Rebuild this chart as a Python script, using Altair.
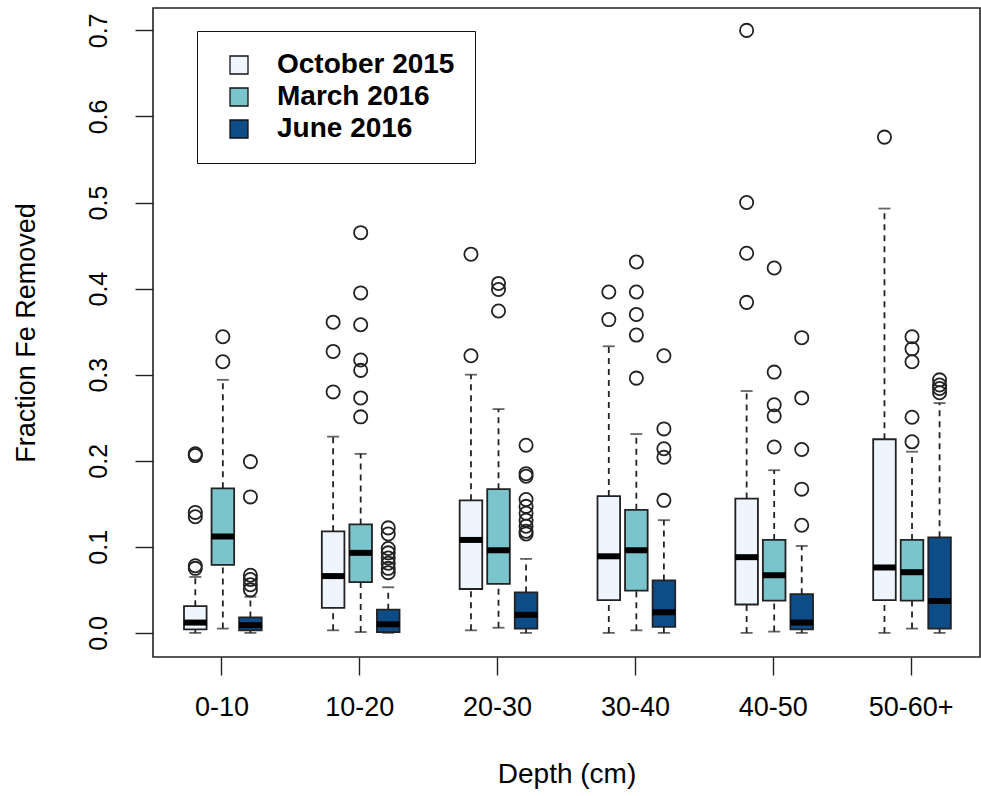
import altair as alt
import pandas as pd

depths = ["0-10", "10-20", "20-30", "30-40", "40-50", "50-60+"]
series_names = ["October 2015", "March 2016", "June 2016"]
colors = ["#EEF5FD", "#7AC5CC", "#0E4C88"]

# box statistics per series, one value per depth class
oct_lo = [0.000, 0.003, 0.003, 0.000, 0.000, 0.000]
oct_q1 = [0.004, 0.029, 0.051, 0.038, 0.033, 0.038]
oct_med = [0.012, 0.066, 0.108, 0.089, 0.088, 0.076]
oct_q3 = [0.031, 0.118, 0.154, 0.159, 0.156, 0.225]
oct_hi = [0.065, 0.228, 0.300, 0.333, 0.281, 0.493]

mar_lo = [0.005, 0.001, 0.006, 0.003, 0.0015, 0.005]
mar_q1 = [0.079, 0.059, 0.057, 0.049, 0.0375, 0.0375]
mar_med = [0.112, 0.093, 0.096, 0.096, 0.067, 0.0705]
mar_q3 = [0.168, 0.126, 0.167, 0.143, 0.108, 0.108]
mar_hi = [0.294, 0.208, 0.260, 0.231, 0.189, 0.2105]

jun_lo = [0.000, 0.000, 0.000, 0.000, 0.000, 0.000]
jun_q1 = [0.003, 0.001, 0.005, 0.007, 0.004, 0.005]
jun_med = [0.009, 0.010, 0.021, 0.024, 0.012, 0.037]
jun_q3 = [0.018, 0.027, 0.047, 0.061, 0.045, 0.111]
jun_hi = [0.042, 0.053, 0.086, 0.131, 0.101, 0.267]

# outliers per series, one list per depth class
oct_out = [
    [0.075, 0.078, 0.135, 0.140, 0.206, 0.208],
    [0.280, 0.327, 0.361],
    [0.322, 0.440],
    [0.364, 0.396],
    [0.384, 0.441, 0.500, 0.700],
    [0.576],
]
mar_out = [
    [0.315, 0.344],
    [0.251, 0.273, 0.305, 0.317, 0.358, 0.395, 0.465],
    [0.374, 0.399, 0.406],
    [0.296, 0.346, 0.370, 0.396, 0.431],
    [0.216, 0.252, 0.265, 0.303, 0.424],
    [0.222, 0.2505, 0.315, 0.330, 0.344],
]
jun_out = [
    [0.050, 0.056, 0.062, 0.067, 0.158, 0.199],
    [0.070, 0.075, 0.081, 0.087, 0.093, 0.098, 0.115, 0.122],
    [0.115, 0.118, 0.124, 0.131, 0.139, 0.147, 0.155, 0.182, 0.185, 0.218],
    [0.154, 0.204, 0.214, 0.237, 0.322],
    [0.125, 0.167, 0.213, 0.273, 0.343],
    [0.279, 0.284, 0.288, 0.294],
]

stats = {
    "October 2015": (oct_lo, oct_q1, oct_med, oct_q3, oct_hi, oct_out),
    "March 2016": (mar_lo, mar_q1, mar_med, mar_q3, mar_hi, mar_out),
    "June 2016": (jun_lo, jun_q1, jun_med, jun_q3, jun_hi, jun_out),
}

box_rows = []
out_rows = []
for s in series_names:
    lo, q1, med, q3, hi, outs = stats[s]
    for i, d in enumerate(depths):
        box_rows.append(dict(depth=d, series=s, lo=lo[i], q1=q1[i], med=med[i], q3=q3[i], hi=hi[i]))
        for v in outs[i]:
            out_rows.append(dict(depth=d, series=s, value=v))
box_df = pd.DataFrame(box_rows)
out_df = pd.DataFrame(out_rows)

FONT = "Liberation Sans"
INK = "#222222"

xscale = alt.Scale(domain=depths, paddingInner=0, paddingOuter=0)
offscale = alt.Scale(domain=series_names, range=[31, 108.7], paddingInner=0.18, paddingOuter=0)
yscale = alt.Scale(domain=[-0.028, 0.726], nice=False, zero=False)

xaxis = alt.Axis(
    labelAngle=0, domain=False, grid=False, tickSize=18, tickWidth=1.4,
    tickColor=INK, labelFontSize=27, labelColor="black", labelPadding=19,
    titleFontSize=28, titleFontWeight="normal", titleColor="black", titlePadding=40,
    labelFont=FONT, titleFont=FONT,
)
yaxis = alt.Axis(
    values=[0.0, 0.1, 0.2, 0.3, 0.4, 0.5, 0.6, 0.7], format=".1f",
    labelAngle=270, labelAlign="center", labelBaseline="bottom",
    domain=False, grid=False, tickSize=18, tickWidth=1.4, tickColor=INK,
    labelFontSize=25, labelColor="black", labelPadding=24,
    titleFontSize=27, titleFontWeight="normal", titleColor="black", titlePadding=46,
    labelFont=FONT, titleFont=FONT,
)


def xenc():
    return alt.X("depth:N", scale=xscale, axis=xaxis, sort=depths, title="Depth (cm)")


def xoff():
    return alt.XOffset("series:N", scale=offscale, sort=series_names)


def yenc(field):
    return alt.Y(field, type="quantitative", scale=yscale, axis=yaxis, title="Fraction Fe Removed")


base = alt.Chart(box_df)

whisk_lo = base.mark_rule(color=INK, strokeWidth=1.8, strokeDash=[6, 5]).encode(
    x=xenc(), xOffset=xoff(), y=yenc("lo"), y2="q1:Q")
whisk_hi = base.mark_rule(color=INK, strokeWidth=1.8, strokeDash=[6, 5]).encode(
    x=xenc(), xOffset=xoff(), y=yenc("q3"), y2="hi:Q")
cap_lo = base.mark_tick(color=INK, size=12, thickness=1.8).encode(
    x=xenc(), xOffset=xoff(), y=yenc("lo"))
cap_hi = base.mark_tick(color=INK, size=12, thickness=1.8).encode(
    x=xenc(), xOffset=xoff(), y=yenc("hi"))
boxes = base.mark_bar(stroke=INK, strokeWidth=1.8).encode(
    x=xenc(), xOffset=xoff(), y=yenc("q1"), y2="q3:Q",
    fill=alt.Fill(
        "series:N",
        scale=alt.Scale(domain=series_names, range=colors),
        sort=series_names,
        legend=alt.Legend(
            orient="none", legendX=44, legendY=23, title=None, direction="vertical",
            labelFontSize=28, labelFont=FONT, labelFontWeight="bold",
            labelColor="black", labelLimit=400,
            symbolType="square", symbolSize=324, symbolStrokeColor="#111111",
            symbolStrokeWidth=1.3, symbolOpacity=1, symbolOffset=8,
            padding=20, labelOffset=24, rowPadding=4,
            strokeColor="#111111", fillColor="white",
        ),
    ),
)
medians = base.mark_tick(color="black", size=23, thickness=6, opacity=1).encode(
    x=xenc(), xOffset=xoff(), y=yenc("med"))
outliers = alt.Chart(out_df).mark_point(
    shape="circle", filled=False, size=175, stroke=INK, strokeWidth=1.8, opacity=1
).encode(x=xenc(), xOffset=xoff(), y=yenc("value"))

chart = alt.layer(whisk_lo, whisk_hi, cap_lo, cap_hi, boxes, medians, outliers).properties(
    width=827, height=649,
    autosize=alt.AutoSizeParams(type="none"),
    padding={"left": 153, "top": 8, "right": 1, "bottom": 139},
).configure(
    background="white",
    view=alt.ViewConfig(stroke=INK, strokeWidth=1.6),
)

chart.save("out.html", embed_options={"renderer": "svg", "actions": False})
